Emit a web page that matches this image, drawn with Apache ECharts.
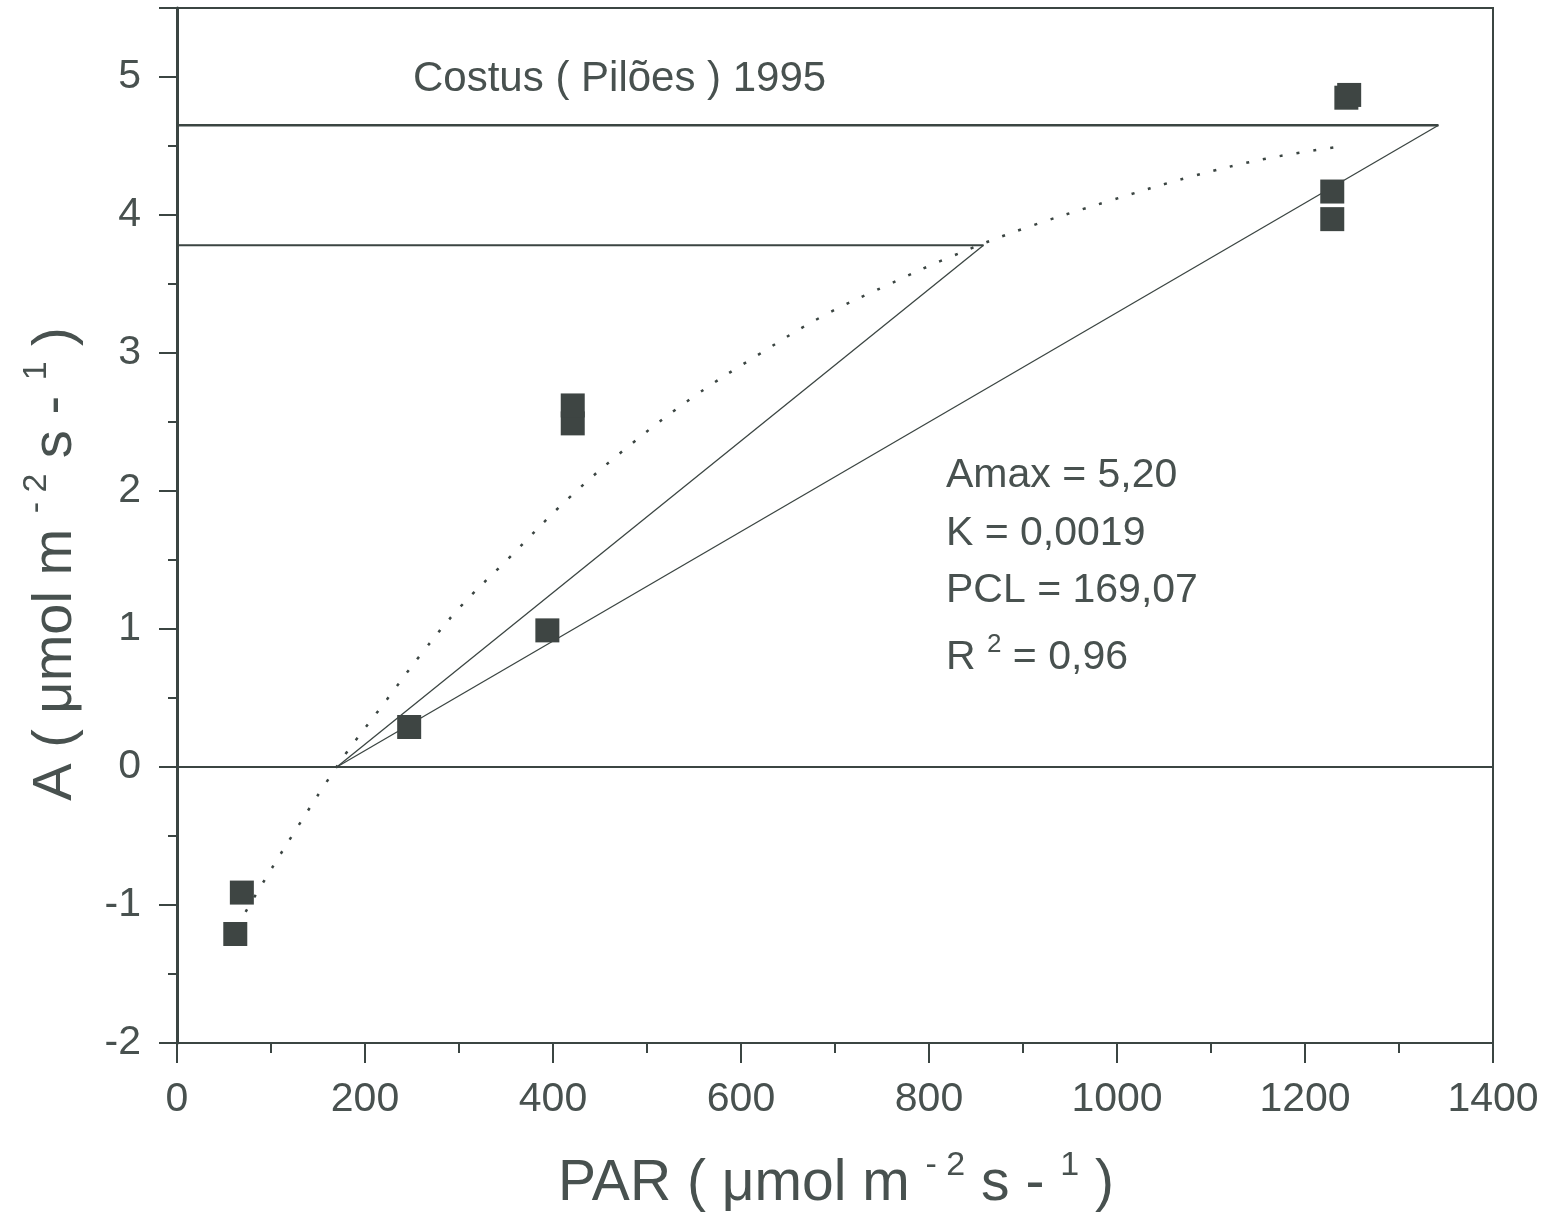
<!DOCTYPE html>
<html>
<head>
<meta charset="utf-8">
<script src="https://cdn.jsdelivr.net/npm/echarts@6/dist/echarts.min.js"></script>
<style>
html,body{margin:0;padding:0;background:#fff;}
#chart{width:1555px;height:1219px;}
</style>
</head>
<body>
<div id="chart"></div>
<script>
// Measured points (PAR, A)
var pointsPAR = [62, 69, 247, 394, 421, 421, 1229, 1229, 1244, 1247];
var pointsA   = [-1.21, -0.91, 0.29, 0.99, 2.49, 2.62, 3.97, 4.17, 4.85, 4.87];

// Dotted fitted curve
var curvePAR = [73, 94, 125, 158, 181, 219, 260, 300, 351, 417, 485, 551, 619, 685, 755, 824, 900, 991, 1080, 1160, 1242];
var curveA   = [-1.05, -0.81, -0.47, -0.12, 0.11, 0.45, 0.82, 1.15, 1.50, 1.95, 2.35, 2.69, 2.99, 3.26, 3.49, 3.70, 3.90, 4.10, 4.28, 4.41, 4.50];

// Solid construction lines
var lineLowPAR  = [170, 1342];
var lineLowA    = [0, 4.65];
var lineHighPAR = [170, 858];
var lineHighA   = [0, 3.78];
var hLineTopPAR = [0, 1342];
var hLineTopA   = [4.65, 4.65];
var hLineMidPAR = [0, 858];
var hLineMidA   = [3.78, 3.78];
var zeroPAR     = [0, 1400];
var zeroA       = [0, 0];

var title = 'Costus ( Pilões ) 1995';
var stats = ['Amax = 5,20', 'K = 0,0019', 'PCL = 169,07'];

function zip(a, b) { return a.map(function (v, i) { return [v, b[i]]; }); }

var lineCol = '#3b4542';
var textCol = '#48514f';
var FONT = '"Liberation Sans", Arial, sans-serif';

var chart = echarts.init(document.getElementById('chart'));

function seg(px, ay, w) {
  return {
    type: 'line', data: zip(px, ay), symbol: 'none', silent: true,
    lineStyle: { color: lineCol, width: w }, z: 2
  };
}

function richTitle(fs, sfs, lh) {
  return {
    b: { fontSize: fs, fontFamily: FONT, color: textCol, lineHeight: lh, verticalAlign: 'bottom' },
    s: { fontSize: sfs, fontFamily: FONT, color: textCol, lineHeight: sfs, verticalAlign: 'top' }
  };
}

chart.setOption({
  animation: false,
  backgroundColor: '#ffffff',
  grid: { left: 177, right: 62, top: 8, bottom: 176, show: true, borderColor: lineCol, borderWidth: 2 },
  xAxis: {
    type: 'value', min: 0, max: 1400, interval: 200,
    axisLine: { show: true, onZero: false, lineStyle: { color: lineCol, width: 2 } },
    axisTick: { show: true, inside: false, length: 20, lineStyle: { color: lineCol, width: 2 } },
    minorTick: { show: true, splitNumber: 2, length: 10, lineStyle: { color: lineCol, width: 2 } },
    splitLine: { show: false },
    axisLabel: { margin: 36, fontSize: 41, fontFamily: FONT, color: textCol,
      formatter: function (v) { return String(v); } }
  },
  yAxis: {
    type: 'value', min: -2, max: 5.5, interval: 1,
    axisLine: { show: true, onZero: false, lineStyle: { color: lineCol, width: 3 } },
    axisTick: { show: true, inside: false, length: 18, lineStyle: { color: lineCol, width: 2 } },
    minorTick: { show: true, splitNumber: 2, length: 9, lineStyle: { color: lineCol, width: 2 } },
    splitLine: { show: false },
    axisLabel: {
      margin: 36, fontSize: 41, fontFamily: FONT, color: textCol,
      formatter: function (v) { return (v > 5.01) ? '' : String(v); }
    }
  },
  graphic: [
    { type: 'text', x: 413, y: 79, silent: true,
      style: { text: title, font: '42px ' + FONT, fill: textCol, textAlign: 'left', textVerticalAlign: 'middle' } },
    { type: 'text', x: 946, y: 476, silent: true,
      style: { text: stats[0], font: '41px ' + FONT, fill: textCol, textAlign: 'left', textVerticalAlign: 'middle' } },
    { type: 'text', x: 946, y: 534, silent: true,
      style: { text: stats[1], font: '41px ' + FONT, fill: textCol, textAlign: 'left', textVerticalAlign: 'middle' } },
    { type: 'text', x: 946, y: 591, silent: true,
      style: { text: stats[2], font: '41px ' + FONT, fill: textCol, textAlign: 'left', textVerticalAlign: 'middle' } },
    { type: 'text', x: 946, y: 655, silent: true,
      style: {
        text: '{b|R }{s|2}{b| = 0,96}', fill: textCol, textAlign: 'left', textVerticalAlign: 'middle',
        rich: richTitle(41, 26, 46)
      } },
    { type: 'text', x: 836, y: 1181, silent: true,
      style: {
        text: '{b|PAR ( μmol m }{s|- 2}{b| s - }{s|1}{b| )}', fill: textCol, textAlign: 'center', textVerticalAlign: 'middle',
        rich: richTitle(57, 34, 64)
      } },
    { type: 'text', x: 52, y: 564, rotation: Math.PI / 2, silent: true,
      style: {
        text: '{b|A ( μmol m }{s|- 2}{b| s - }{s|1}{b| )}', fill: textCol, textAlign: 'center', textVerticalAlign: 'middle',
        rich: richTitle(56, 34, 64)
      } }
  ],
  series: [
    seg(zeroPAR, zeroA, 2),
    seg(hLineTopPAR, hLineTopA, 2.5),
    seg(hLineMidPAR, hLineMidA, 2),
    seg(lineLowPAR, lineLowA, 1.3),
    seg(lineHighPAR, lineHighA, 1.3),
    {
      type: 'line', data: zip(curvePAR, curveA), symbol: 'none', smooth: 0.4, silent: true,
      lineStyle: { color: lineCol, width: 2.5, type: [3, 14], cap: 'butt' }, z: 2
    },
    {
      type: 'scatter', data: zip(pointsPAR, pointsA), symbol: 'rect', symbolSize: 24,
      itemStyle: { color: '#3e4543', opacity: 1 }, z: 5
    }
  ]
});
</script>
</body>
</html>
